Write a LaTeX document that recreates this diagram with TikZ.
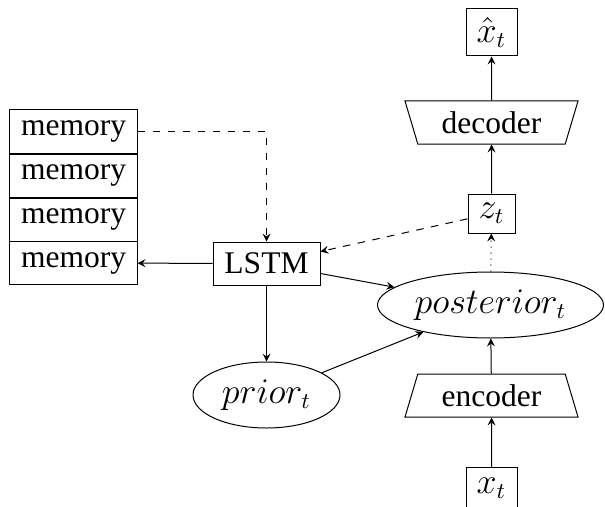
\documentclass[tikz,border=0pt]{standalone}
\usepackage{fontspec}
\setmainfont{Liberation Serif}
\usetikzlibrary{shapes.geometric,arrows}
\begin{document}
\begin{tikzpicture}[x=0.4pt,y=-0.4pt,
  font=\fontsize{12.6pt}{15pt}\selectfont,
  >=stealth,
  mathfont/.style={font=\fontsize{13.3pt}{16pt}\selectfont},
  box/.style={draw,inner sep=0pt,minimum width=#1},
  membox/.style={box=50.8pt,minimum height=17.2pt},
  oval/.style={draw,ellipse,inner sep=0pt,minimum height=26.4pt,mathfont},
  trap/.style={draw,trapezium,trapezium left angle=60,trapezium right angle=60,
    trapezium stretches body,minimum width=69.2pt,minimum height=17.2pt,inner sep=0pt}]
\useasboundingbox (0,0) rectangle (605,506);
\node[membox] (m1) at (73.5,131.5) {memory};
\node[membox] (m2) at (73.5,175.5) {memory};
\node[membox] (m3) at (73.5,219.5) {memory};
\node[membox] (m4) at (73.5,263) {memory};
\node[box=42.8pt,minimum height=17.2pt] (lstm) at (266.5,263.5) {LSTM};
\node[oval,minimum width=58.8pt] (prior) at (266.5,395) {$prior_t$};
\node[oval,minimum width=90.4pt] (post) at (490.5,305) {$posterior_t$};
\node[trap] (enc) at (491.5,395.5) {encoder};
\node[trap,shape border rotate=180] (dec) at (491.5,122.5) {decoder};
\node[box=18.8pt,minimum height=15.6pt,mathfont] (z) at (491.5,213.5) {$z_t$};
\node[box=20.4pt,minimum height=18.8pt,mathfont] (xh) at (491.5,32.5) {$\hat{x}_t$};
\node[box=20.4pt,text height=10.4pt,text depth=20pt,anchor=north,mathfont] (x) at (491.5,467) {$x_t$};
\draw[->] (lstm) -- (m4);
\draw[->,dashed] (m1.east) -| (lstm.north);
\draw[->,dashed] (z) -- (lstm);
\draw[->] (lstm) -- (post);
\draw[->] (lstm) -- (prior);
\draw[->] (prior) -- (post);
\draw[->] (x) -- (enc);
\draw[->] (enc) -- (post);
\draw[->,dotted] (post) -- (z);
\draw[->] (z) -- (dec);
\draw[->] (dec) -- (xh);
\end{tikzpicture}
\end{document}
